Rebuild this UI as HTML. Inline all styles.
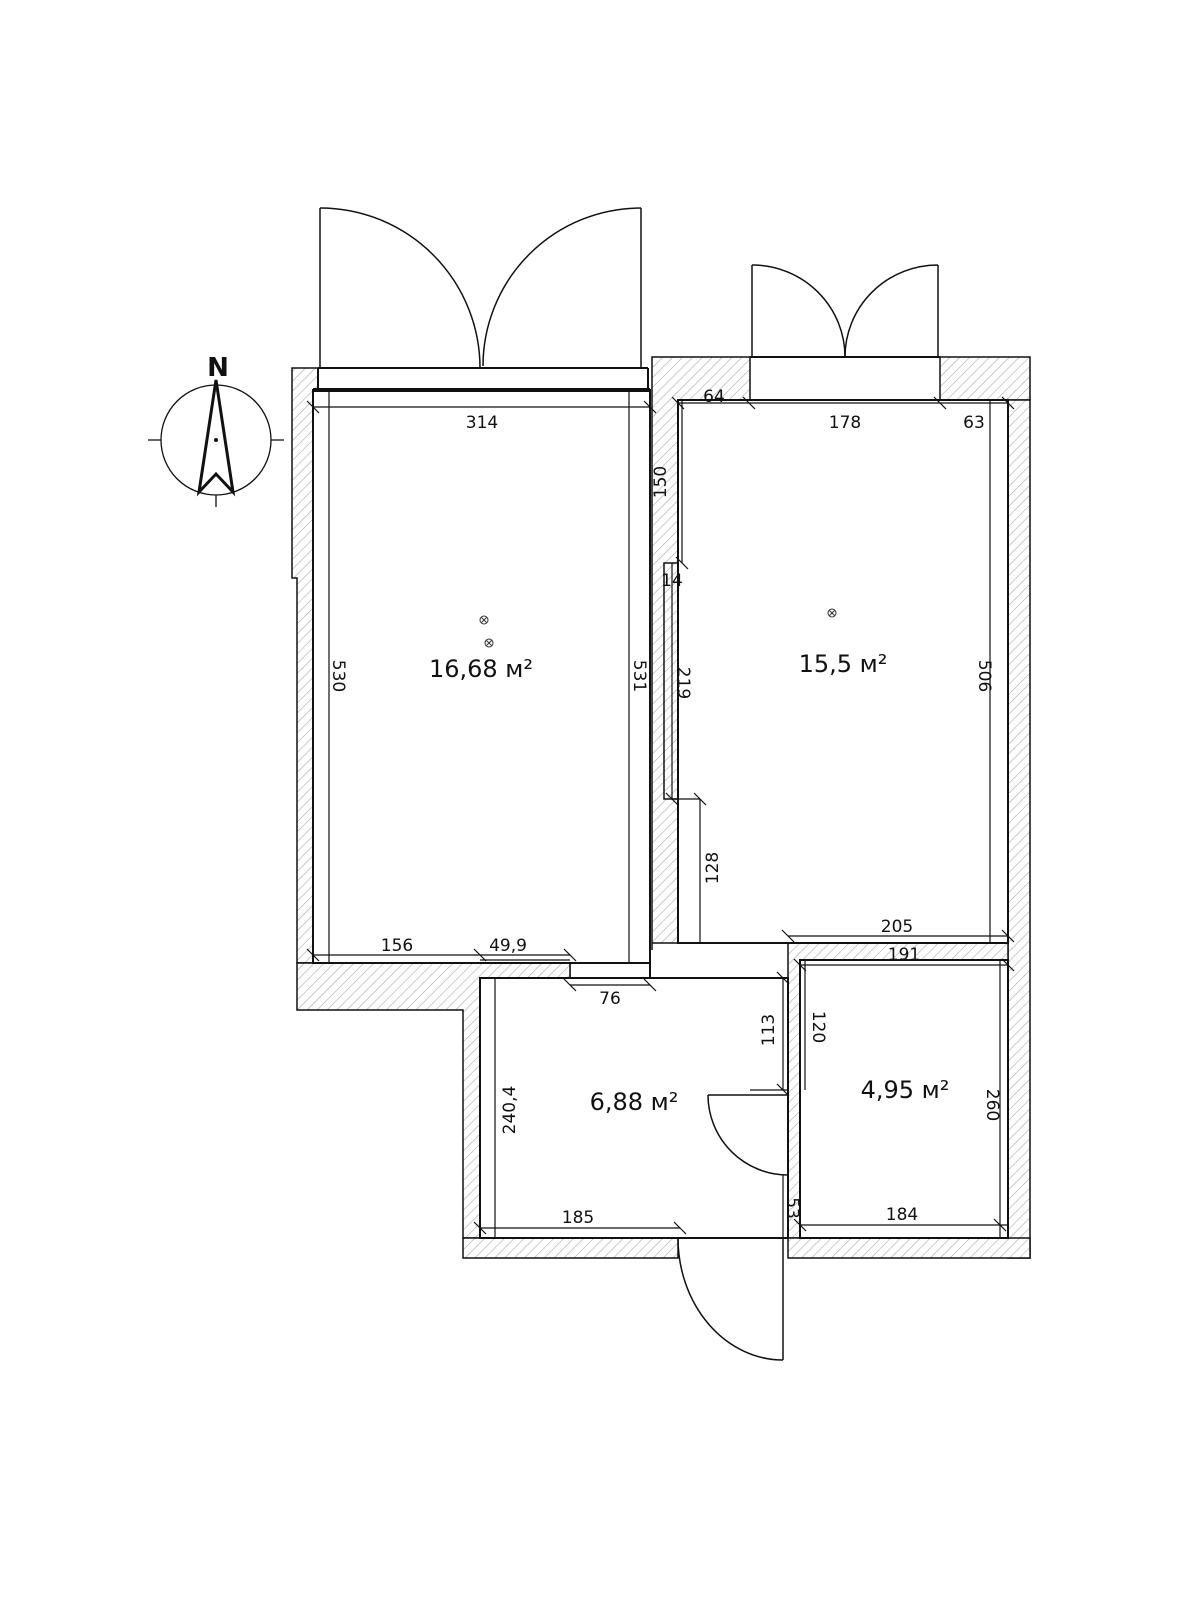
<!DOCTYPE html>
<html><head><meta charset="utf-8"><style>
html,body{margin:0;padding:0;background:#fff;}
svg{display:block;}
text{font-family:"DejaVu Sans","Liberation Sans",sans-serif;fill:#111;}
</style></head><body>
<svg width="1200" height="1600" viewBox="0 0 1200 1600" xmlns="http://www.w3.org/2000/svg">
<defs>
<pattern id="h" patternUnits="userSpaceOnUse" width="7" height="7" patternTransform="rotate(45)">
<rect width="7" height="7" fill="#fff"/>
<line x1="0" y1="0" x2="0" y2="7" stroke="#aaa" stroke-width="1.2"/>
</pattern>
</defs>

<!-- hatched walls -->
<g fill="url(#h)" stroke="#111" stroke-width="1.5">
<!-- left outer wall -->
<path d="M292 368 L318 368 L318 390 L313 390 L313 963 L297 963 L297 578 L292 578 Z"/>
<!-- left-bottom wall -->
<path d="M297 963 L480 963 L480 978 L570 978 L570 963 L480 963 L313 963 L313 963 Z" fill="none"/>
<path d="M297 963 L570 963 L570 978 L480 978 L480 1238 L463 1238 L463 1010 L297 1010 Z"/>
<!-- middle wall between rooms -->
<path d="M652 357 L750 357 L750 400 L678 400 L678 943 L652 943 L652 950 L652 357 Z"/>
<!-- right top walls -->
<path d="M940 357 L1030 357 L1030 400 L940 400 Z"/>
<!-- right outer wall -->
<path d="M1008 400 L1030 400 L1030 1258 L1008 1258 Z"/>
<!-- wall between right room and bath -->
<path d="M788 943 L1008 943 L1008 960 L800 960 L800 1238 L788 1238 Z"/>
<!-- bottom wall -->
<path d="M463 1238 L678 1238 L678 1258 L463 1258 Z"/>
<path d="M788 1238 L1030 1238 L1030 1258 L788 1258 Z"/>
</g>
<!-- room outlines -->
<g fill="none" stroke="#111" stroke-width="2">
<rect x="313" y="390" width="337" height="573"/>
<line x1="313" y1="390" x2="650" y2="390" stroke-width="4"/>
<line x1="318" y1="368" x2="318" y2="390"/>
<line x1="318" y1="368" x2="648" y2="368"/>
<line x1="648" y1="368" x2="648" y2="390"/>
<rect x="678" y="400" width="330" height="543"/>
<line x1="750" y1="357" x2="940" y2="357"/>
<rect x="480" y="978" width="308" height="260"/>
<rect x="800" y="960" width="208" height="278"/>
<line x1="570" y1="963" x2="650" y2="963"/>
<line x1="650" y1="950" x2="650" y2="978"/>
<line x1="678" y1="1238" x2="788" y2="1238"/>
<!-- wardrobe strip -->
<rect x="664" y="563" width="14" height="236" stroke-width="1.5"/>
</g>
<!-- inner dimension lines -->
<g fill="none" stroke="#111" stroke-width="1.2">
<line x1="313" y1="407" x2="650" y2="407"/>
<line x1="329" y1="390" x2="329" y2="963"/>
<line x1="629" y1="390" x2="629" y2="963"/>
<line x1="313" y1="955" x2="570" y2="955"/>
<line x1="570" y1="985" x2="650" y2="985"/>
<line x1="678" y1="403" x2="1008" y2="403"/>
<line x1="682" y1="400" x2="682" y2="563"/>
<line x1="672" y1="563" x2="672" y2="799"/>
<line x1="700" y1="799" x2="700" y2="943"/>
<line x1="672" y1="799" x2="700" y2="799"/>
<line x1="990" y1="400" x2="990" y2="943"/>
<line x1="788" y1="936" x2="1008" y2="936"/>
<line x1="800" y1="965" x2="1008" y2="965"/>
<line x1="805" y1="960" x2="805" y2="1090"/>
<line x1="783" y1="978" x2="783" y2="1090"/>
<line x1="750" y1="1090" x2="788" y2="1090"/>
<line x1="783" y1="1175" x2="783" y2="1238"/>
<line x1="495" y1="978" x2="495" y2="1238"/>
<line x1="480" y1="1228" x2="680" y2="1228"/>
<line x1="800" y1="1225" x2="1008" y2="1225"/>
<line x1="1000" y1="960" x2="1000" y2="1238"/>
<line x1="480" y1="960" x2="570" y2="960"/>
</g>
<!-- ticks -->
<g stroke="#111" stroke-width="1.2">
<line x1="307" y1="401" x2="319" y2="413"/><line x1="644" y1="401" x2="656" y2="413"/>
<line x1="672" y1="397" x2="684" y2="409"/><line x1="743" y1="397" x2="755" y2="409"/><line x1="934" y1="397" x2="946" y2="409"/><line x1="1002" y1="397" x2="1014" y2="409"/>
<line x1="307" y1="949" x2="319" y2="961"/><line x1="474" y1="949" x2="486" y2="961"/><line x1="564" y1="949" x2="576" y2="961"/>
<line x1="564" y1="979" x2="576" y2="991"/><line x1="644" y1="979" x2="656" y2="991"/>
<line x1="782" y1="930" x2="794" y2="942"/><line x1="1002" y1="930" x2="1014" y2="942"/>
<line x1="794" y1="959" x2="806" y2="971"/><line x1="1002" y1="959" x2="1014" y2="971"/>
<line x1="474" y1="1222" x2="486" y2="1234"/><line x1="674" y1="1222" x2="686" y2="1234"/>
<line x1="794" y1="1219" x2="806" y2="1231"/><line x1="994" y1="1219" x2="1006" y2="1231"/>
<line x1="777" y1="972" x2="789" y2="984"/><line x1="777" y1="1084" x2="789" y2="1096"/>
<line x1="694" y1="793" x2="706" y2="805"/><line x1="666" y1="793" x2="678" y2="805"/>
<line x1="676" y1="557" x2="688" y2="569"/>
</g>

<!-- doors -->
<g fill="none" stroke="#111" stroke-width="1.5">
<line x1="320" y1="208" x2="320" y2="368"/>
<path d="M320 208 A160 160 0 0 1 480 368"/>
<line x1="641" y1="208" x2="641" y2="368"/>
<path d="M641 208 A158 158 0 0 0 483 366"/>
<line x1="752" y1="265" x2="752" y2="357"/>
<path d="M752 265 A93 92 0 0 1 845 357"/>
<line x1="938" y1="265" x2="938" y2="357"/>
<path d="M938 265 A93 92 0 0 0 845 357"/>
<line x1="708" y1="1095" x2="788" y2="1095"/>
<path d="M708 1095 A80 80 0 0 0 788 1175"/>
<line x1="783" y1="1238" x2="783" y2="1360"/>
<path d="M678 1238 A105 122 0 0 0 783 1360"/>
</g>

<!-- lamps -->
<g fill="none" stroke="#333" stroke-width="1">
<circle cx="484" cy="620" r="4"/><line x1="481" y1="617" x2="487" y2="623"/><line x1="487" y1="617" x2="481" y2="623"/>
<circle cx="489" cy="643" r="4"/><line x1="486" y1="640" x2="492" y2="646"/><line x1="492" y1="640" x2="486" y2="646"/>
<circle cx="832" cy="613" r="4"/><line x1="829" y1="610" x2="835" y2="616"/><line x1="835" y1="610" x2="829" y2="616"/>
</g>

<!-- compass -->
<g fill="none" stroke="#111">
<circle cx="216" cy="440" r="55" stroke-width="1.3"/>
<line x1="148" y1="440" x2="161" y2="440" stroke-width="1.3"/>
<line x1="271" y1="440" x2="284" y2="440" stroke-width="1.3"/>
<line x1="216" y1="495" x2="216" y2="507" stroke-width="1.3"/>
<path d="M216 380 L199 492 L216 474 L233 492 Z" stroke-width="3" stroke-linejoin="miter"/>
</g>
<circle cx="216" cy="440" r="2" fill="#111"/>
<text x="218" y="376" font-size="26" font-weight="bold" text-anchor="middle">N</text>

<!-- labels -->
<g font-size="17" text-anchor="middle">
<text x="482" y="428">314</text>
<text x="714" y="402">64</text>
<text x="845" y="428">178</text>
<text x="974" y="428">63</text>
<text x="397" y="951">156</text>
<text x="508" y="951">49,9</text>
<text x="610" y="1004">76</text>
<text x="897" y="932">205</text>
<text x="904" y="960">191</text>
<text x="578" y="1223">185</text>
<text x="902" y="1220">184</text>
<text x="672" y="586">14</text>
<text transform="translate(333,676) rotate(90)">530</text>
<text transform="translate(634,676) rotate(90)">531</text>
<text transform="translate(979,676) rotate(90)">506</text>
<text transform="translate(678,683) rotate(90)">219</text>
<text transform="translate(666,482) rotate(-90)">150</text>
<text transform="translate(718,868) rotate(-90)">128</text>
<text transform="translate(774,1030) rotate(-90)">113</text>
<text transform="translate(813,1027) rotate(90)">120</text>
<text transform="translate(987,1105) rotate(90)">260</text>
<text transform="translate(515,1110) rotate(-90)">240,4</text>
<text transform="translate(787,1208) rotate(90)">53</text>
</g>
<g font-size="24" text-anchor="middle">
<text x="481" y="677">16,68 м²</text>
<text x="843" y="672">15,5 м²</text>
<text x="634" y="1110">6,88 м²</text>
<text x="905" y="1098">4,95 м²</text>
</g>
</svg>
</body></html>
